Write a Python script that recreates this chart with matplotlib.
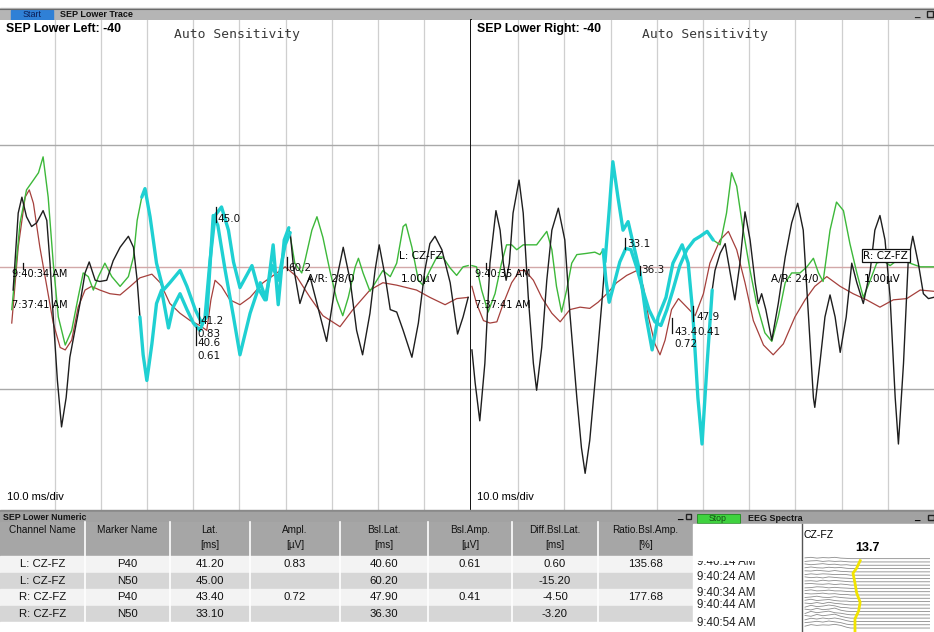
import numpy as np
import matplotlib.pyplot as plt
from matplotlib.patches import Rectangle

plt.rcParams['font.family'] = ['Liberation Sans', 'DejaVu Sans']

# ---------------- SEP Lower Left (latency ms, amplitude uV, 1.00 uV/div) ----------------
left_black_t = [0.9, 2.0, 2.8, 3.8, 4.9, 6.0, 7.4, 8.2, 8.9, 9.6, 10.5, 11.4, 12.4, 13.2, 14.3, 15.4,
                16.5, 17.4, 18.7, 19.7, 21.2, 22.6, 24.1, 25.9, 27.0, 27.8, 28.4, 29.1, 29.9, 31.0, 32.0,
                33.1, 34.6, 35.6, 37.1, 38.6, 40.0, 41.4, 42.5, 43.6, 44.7, 46.1, 47.6, 48.7, 50.1, 52.7,
                54.0, 55.5, 57.1, 58.4, 59.9, 61.0, 61.7, 63.1, 64.2, 65.3, 66.8, 68.9, 70.7, 72.5, 74.0,
                75.4, 76.7, 78.3, 79.4, 80.3, 81.6, 82.7, 84.1, 85.5, 87.4, 88.8, 90.2, 91.3, 92.4, 93.9,
                95.7, 97.3, 98.5, 99.6]
left_black_v = [-0.19, 0.44, 0.57, 0.41, 0.33, 0.36, 0.46, 0.38, 0.03, -0.41, -0.93, -1.31, -1.07, -0.74,
                -0.52, -0.30, -0.05, 0.04, -0.11, -0.12, -0.11, 0.05, 0.16, 0.25, 0.16, -0.11, -0.41,
                -0.72, -0.93, -0.63, -0.30, -0.19, -0.50, -0.33, -0.22, -0.35, -0.46, -0.52, -0.42, 0.05,
                0.42, 0.49, 0.30, 0.04, -0.17, 0.01, -0.17, -0.27, 0.01, -0.11, 0.18, 0.28, 0.00, -0.30,
                -0.17, -0.08, -0.30, -0.61, -0.17, 0.16, -0.11, -0.52, -0.72, -0.38, -0.03, 0.18, -0.08,
                -0.35, -0.37, -0.52, -0.74, -0.46, -0.03, 0.19, 0.25, 0.14, -0.13, -0.55, -0.41, -0.25]
left_green_t = [0.6, 2.4, 3.8, 5.3, 6.4, 7.4, 8.5, 9.6, 10.7, 12.2, 13.6, 15.0, 16.1, 17.2, 18.3, 19.4,
                20.8, 22.3, 24.1, 25.9, 27.0, 27.8, 28.8, 29.5, 30.6, 32.0, 33.5, 34.9, 37.1, 38.6, 40.4,
                41.8, 42.9, 44.3, 45.3, 46.9, 48.7, 50.1, 52.3, 54.5, 55.8, 57.3, 58.4, 59.7, 60.7, 62.0,
                63.5, 64.2, 65.7, 66.8, 68.1, 69.6, 71.1, 72.4, 73.6, 75.1, 75.8, 76.8, 78.3, 79.8, 81.1,
                82.7, 84.1, 85.5, 86.1, 87.4, 88.8, 89.8, 91.3, 92.8, 94.1, 95.7, 97.1, 98.5, 99.6]
left_green_v = [-0.35, 0.36, 0.63, 0.71, 0.77, 0.90, 0.57, 0.03, -0.41, -0.64, -0.52, -0.25, -0.05, -0.08,
                -0.19, -0.08, 0.03, -0.08, -0.16, -0.08, 0.08, 0.38, 0.57, 0.64, 0.41, 0.03, -0.19, -0.13,
                -0.03, -0.16, -0.35, -0.46, -0.41, 0.42, 0.34, -0.03, -0.41, -0.72, -0.38, -0.13, -0.27,
                0.18, -0.31, 0.22, 0.32, 0.03, -0.05, 0.05, 0.30, 0.41, 0.24, -0.03, -0.27, -0.40, -0.25,
                0.00, 0.07, -0.05, -0.20, -0.11, -0.03, -0.08, 0.03, 0.33, 0.35, 0.16, -0.11, -0.15, -0.03,
                0.08, 0.08, -0.01, -0.07, 0.00, 0.01]
left_avg_t = [0.6, 2.0, 3.5, 4.4, 5.3, 6.7, 8.2, 9.6, 11.1, 12.2, 13.6, 15.0, 16.5, 17.9, 19.7, 21.9, 24.1,
              26.3, 28.4, 31.0, 32.8, 34.9, 37.1, 39.3, 41.4, 42.9, 43.8, 44.7, 46.1, 47.9, 50.1, 52.3,
              55.1, 58.1, 59.9, 62.4, 65.3, 68.1, 71.8, 74.6, 78.3, 81.1, 84.1, 88.4, 91.3, 94.6, 97.1, 99.6]
left_avg_v = [-0.46, 0.16, 0.57, 0.63, 0.52, 0.16, -0.16, -0.46, -0.66, -0.68, -0.60, -0.33, -0.19, -0.16,
              -0.19, -0.22, -0.23, -0.16, -0.09, -0.06, -0.13, -0.30, -0.38, -0.44, -0.48, -0.52, -0.27,
              -0.11, -0.16, -0.27, -0.31, -0.25, -0.13, -0.05, 0.00, -0.08, -0.25, -0.40, -0.49, -0.35,
              -0.19, -0.13, -0.15, -0.19, -0.25, -0.31, -0.26, -0.25]
left_window = (28.3, 61.2)

# ---------------- SEP Lower Right ----------------
right_black_t = [0.0, 0.7, 1.7, 2.8, 3.9, 5.2, 6.1, 6.8, 7.4, 8.1, 8.9, 10.2, 11.1, 12.2, 13.3, 14.0, 15.1,
                 16.2, 17.3, 18.7, 20.1, 21.2, 22.7, 23.7, 24.5, 25.5, 27.0, 28.1, 28.8, 29.7, 30.5, 31.6,
                 32.7, 33.8, 34.9, 36.4, 37.7, 39.0, 40.3, 42.0, 43.5, 45.5, 46.8, 47.8, 48.9, 49.8, 50.9,
                 52.0, 52.6, 53.7, 54.8, 55.8, 56.9, 58.0, 59.1, 60.2, 61.3, 62.0, 62.7, 63.6, 64.9, 66.3,
                 67.8, 69.2, 70.5, 71.7, 72.8, 73.9, 74.2, 75.3, 76.4, 77.5, 78.6, 79.7, 81.0, 82.2, 83.3,
                 84.7, 86.2, 87.2, 88.3, 89.4, 90.5, 91.6, 92.3, 93.4, 94.4, 95.4, 96.6, 97.7, 98.8, 99.9]
right_black_v = [-0.68, -0.95, -1.26, -0.79, 0.03, 0.46, 0.30, 0.03, -0.11, 0.03, 0.44, 0.71, 0.44, -0.25,
                 -0.79, -1.01, -0.66, -0.11, 0.30, 0.48, 0.22, -0.38, -1.07, -1.48, -1.69, -1.42, -0.79,
                 -0.30, 0.04, 0.46, 0.86, 0.57, 0.30, 0.37, 0.19, -0.05, -0.41, -0.68, -0.41, -0.25, 0.03,
                 0.18, 0.03, -0.38, -1.07, -1.45, -0.79, -0.19, -0.03, 0.11, 0.19, -0.03, -0.27, 0.03, 0.45,
                 0.22, -0.13, -0.30, -0.22, -0.35, -0.60, -0.30, 0.08, 0.36, 0.52, 0.30, -0.38, -1.07, -1.15,
                 -0.79, -0.41, -0.23, -0.41, -0.70, -0.41, 0.03, -0.13, -0.30, -0.03, 0.30, 0.42, 0.22,
                 -0.25, -1.07, -1.45, -0.79, 0.03, 0.25, 0.03, -0.22, -0.26, -0.25]
right_green_t = [0.0, 1.0, 2.1, 3.5, 5.0, 6.4, 7.5, 8.6, 9.7, 11.1, 12.6, 14.0, 16.2, 17.3, 18.3, 19.4, 20.5,
                 21.6, 22.7, 24.8, 26.6, 27.7, 28.4, 29.0, 29.7, 30.7, 32.0, 33.3, 34.4, 35.7, 37.0, 38.3,
                 39.6, 40.9, 42.2, 43.5, 45.0, 46.5, 48.1, 49.4, 50.9, 52.2, 53.7, 55.1, 56.2, 57.3, 58.7,
                 60.2, 61.6, 63.4, 64.9, 66.3, 67.8, 69.2, 71.0, 72.5, 73.9, 75.0, 76.0, 77.5, 78.9, 80.4,
                 81.8, 83.3, 84.7, 86.2, 87.6, 89.0, 90.5, 91.9, 93.4, 94.8, 97.0, 99.9]
right_green_v = [0.01, 0.00, -0.19, -0.37, -0.22, 0.03, 0.18, 0.18, 0.14, 0.18, 0.18, 0.18, 0.29, 0.14,
                 -0.16, -0.37, -0.19, 0.03, 0.10, 0.11, 0.12, 0.10, 0.14, -0.11, -0.29, -0.15, 0.04, 0.15,
                 0.14, -0.01, -0.19, -0.35, -0.45, -0.48, -0.35, -0.19, 0.01, 0.14, 0.22, 0.25, 0.29, 0.22,
                 0.18, 0.44, 0.77, 0.66, 0.30, -0.03, -0.30, -0.54, -0.61, -0.41, -0.13, -0.05, -0.05, 0.00,
                 0.07, -0.05, -0.12, 0.30, 0.53, 0.46, 0.19, -0.05, -0.25, -0.11, 0.03, 0.05, 0.01, 0.05,
                 0.08, 0.03, 0.00, 0.00]
right_avg_t = [0.0, 1.0, 2.5, 3.9, 5.4, 6.8, 8.6, 10.4, 11.5, 13.3, 15.1, 17.3, 19.1, 21.2, 23.4, 25.5, 27.3,
               29.2, 31.3, 33.5, 35.7, 37.1, 38.2, 39.6, 40.7, 41.8, 43.2, 44.7, 46.5, 48.3, 50.1, 51.5,
               53.7, 55.5, 57.3, 59.1, 60.9, 63.1, 65.2, 67.4, 69.9, 72.1, 74.2, 76.8, 79.7, 82.5, 85.4,
               88.3, 91.2, 94.1, 97.0, 99.9]
right_avg_v = [-0.16, -0.30, -0.44, -0.46, -0.45, -0.30, -0.13, -0.03, -0.03, -0.11, -0.25, -0.38, -0.45,
               -0.35, -0.33, -0.34, -0.29, -0.22, -0.13, -0.07, -0.03, -0.16, -0.41, -0.63, -0.72, -0.60,
               -0.35, -0.26, -0.33, -0.40, -0.22, 0.03, 0.22, 0.29, 0.14, -0.13, -0.44, -0.64, -0.72, -0.63,
               -0.41, -0.27, -0.16, -0.08, -0.16, -0.22, -0.27, -0.33, -0.27, -0.26, -0.19, -0.20]
right_window = (28.3, 52.2)

# marker ticks: latency, lower/upper amplitude of tick
left_marks = [(41.2, -0.46, -0.34), (40.6, -0.64, -0.49), (45.0, 0.37, 0.49), (60.2, -0.03, 0.08)]
left_mark_text = [('41.2', 41.5, -0.44), ('0.83', 40.9, -0.55), ('40.6', 40.9, -0.62),
                  ('0.61', 40.8, -0.73), ('45.0', 45.3, 0.39), ('60.2', 60.6, -0.01)]
right_marks = [(33.1, 0.15, 0.24), (36.3, -0.07, 0.01), (43.4, -0.54, -0.42), (47.9, -0.44, -0.32)]
right_mark_text = [('33.1', 33.5, 0.19), ('36.3', 36.7, -0.03), ('43.4', 43.9, -0.53),
                   ('0.72', 43.9, -0.63), ('47.9', 48.5, -0.41), ('0.41', 48.7, -0.53)]

# ---------------- numeric table ----------------
tbl_headers = [('Channel Name', ''), ('Marker Name', ''), ('Lat.', '[ms]'), ('Ampl.', '[µV]'),
               ('Bsl.Lat.', '[ms]'), ('Bsl.Amp.', '[µV]'), ('Diff.Bsl.Lat.', '[ms]'), ('Ratio.Bsl.Amp.', '[%]')]
tbl_channel = ['L: CZ-FZ', 'L: CZ-FZ', 'R: CZ-FZ', 'R: CZ-FZ']
tbl_marker = ['P40', 'N50', 'P40', 'N50']
tbl_lat = ['41.20', '45.00', '43.40', '33.10']
tbl_ampl = ['0.83', '', '0.72', '']
tbl_bsl_lat = ['40.60', '60.20', '47.90', '36.30']
tbl_bsl_amp = ['0.61', '', '0.41', '']
tbl_diff = ['0.60', '-15.20', '-4.50', '-3.20']
tbl_ratio = ['135.68', '', '177.68', '']

# ---------------- EEG spectra ----------------
eeg_times = ['9:40:14 AM', '9:40:24 AM', '9:40:34 AM', '9:40:44 AM', '9:40:54 AM']
eeg_time_y = [562, 577, 593, 605, 623]
sef_rows = [0.6, 2.9, 4.4, 7.4, 10.3, 13.2, 15.9, 18.2, 21.8]
sef_hz = [14.4, 13.5, 12.6, 13.1, 13.5, 14.4, 14.0, 13.1, 13.1]
csa_f = [0.5, 2.0, 3.5, 5.0, 6.5, 8.0, 9.5, 11.0, 12.0, 32.0]
csa_rows = [
    [0.3, 0.5, 0.2, 0.4, 0.3, 0.5, 0.2, 0.1, 0, 0],
    [0.2, 0.4, 0.5, 0.2, 0.4, 0.2, 0.3, 0.1, 0, 0],
    [0.5, 0.2, 0.4, 0.6, 0.3, 0.4, 0.1, 0.2, 0, 0],
    [0.3, 0.6, 0.3, 0.2, 0.5, 0.3, 0.4, 0.1, 0, 0],
    [0.4, 0.3, 0.6, 0.4, 0.2, 0.5, 0.2, 0.1, 0, 0],
    [0.2, 0.5, 0.3, 0.5, 0.4, 0.2, 0.3, 0.2, 0, 0],
    [0.6, 0.3, 0.5, 0.2, 0.6, 0.4, 0.2, 0.1, 0, 0],
    [0.3, 0.4, 0.2, 0.6, 0.3, 0.5, 0.3, 0.1, 0, 0],
    [0.5, 0.6, 0.4, 0.3, 0.5, 0.2, 0.4, 0.2, 0, 0],
    [0.2, 0.3, 0.6, 0.5, 0.2, 0.4, 0.2, 0.1, 0, 0],
    [0.4, 0.7, 0.3, 0.4, 0.6, 0.3, 0.3, 0.1, 0, 0],
    [0.6, 0.4, 0.5, 0.7, 0.4, 0.5, 0.2, 0.2, 0, 0],
    [0.3, 0.5, 0.8, 0.4, 0.3, 0.6, 0.3, 0.1, 0, 0],
    [0.5, 0.9, 0.4, 0.6, 0.8, 0.4, 0.2, 0.2, 0, 0],
    [0.7, 0.5, 0.9, 0.5, 1.0, 0.6, 0.4, 0.1, 0, 0],
    [0.4, 1.1, 0.6, 0.8, 1.2, 0.9, 0.3, 0.2, 0, 0],
    [0.9, 0.6, 1.2, 0.7, 0.9, 1.3, 0.5, 0.1, 0, 0],
    [0.5, 1.3, 0.8, 1.1, 1.4, 0.8, 0.6, 0.2, 0, 0],
    [1.0, 0.7, 1.4, 0.9, 1.2, 1.5, 0.7, 0.2, 0, 0],
    [0.6, 1.2, 0.9, 1.3, 1.0, 1.3, 0.9, 0.3, 0, 0],
    [0.8, 1.0, 1.3, 1.0, 1.4, 1.1, 0.8, 0.2, 0, 0],
    [0.7, 1.3, 1.0, 1.2, 1.1, 1.4, 1.0, 0.3, 0, 0],
]

W, H = 934, 632
fig = plt.figure(figsize=(W / 100, H / 100), dpi=100)


def px_axes(x0, y0, x1, y1, z=1):
    return fig.add_axes([x0 / W, 1 - y1 / H, (x1 - x0) / W, (y1 - y0) / H], zorder=z)


def bare(ax, face='white'):
    ax.set_facecolor(face)
    ax.set_xticks([])
    ax.set_yticks([])
    for s in ax.spines.values():
        s.set_visible(False)


# background / window chrome in screen pixels
bg = px_axes(0, 0, W, H, z=0)
bg.set_xlim(0, W)
bg.set_ylim(H, 0)
bg.axis('off')
bg.add_patch(Rectangle((0, 8), W, 12, color='#b5b5b5'))
bg.plot([0, W], [8.5, 8.5], color='#6a6a6a', lw=0.8)
bg.add_patch(Rectangle((11, 9.5), 42, 10, color='#2f80d6'))
bg.text(32, 14.8, 'Start', fontsize=6.5, color='#0b1d55', ha='center', va='center')
bg.text(60, 14.5, 'SEP Lower Trace', fontsize=6.5, color='#111111', ha='left', va='center',
        fontweight='bold')
bg.text(917, 14, '_', fontsize=7, color='#222222', ha='center', va='center', fontweight='bold')
bg.add_patch(Rectangle((927, 11), 6, 6, fill=False, ec='#222222', lw=1))


def trace_panel(x0, x1, xlim, black, green, avg, window, marks, mark_text, title, tstamp, ar, chan, boxed):
    ax = px_axes(x0, 20, x1, 510, z=2)
    bare(ax)
    ax.set_xlim(*xlim)
    ax.set_ylim(-1.99, 2.02)
    for g in range(10, 100, 10):
        ax.axvline(g, color='#cfcfcf', lw=0.9, zorder=0)
    ax.axhline(1, color='#a9a9a9', lw=1.0, zorder=0)
    ax.axhline(-1, color='#a9a9a9', lw=1.0, zorder=0)
    ax.axhline(0, color='#d2a8a8', lw=1.0, zorder=0)
    ax.plot(avg[0], avg[1], color='#a5403c', lw=0.9, zorder=2)
    ax.plot(green[0], green[1], color='#3db83a', lw=1.0, zorder=3)
    ax.plot(black[0], black[1], color='#1e1e1e', lw=1.0, zorder=3)
    for t, v in (black, green):
        t = np.asarray(t)
        v = np.asarray(v)
        m = (t >= window[0]) & (t <= window[1])
        ax.plot(t[m], v[m], color='#1fd0d2', lw=2.4, zorder=4, solid_capstyle='round',
                solid_joinstyle='round')
    for lat, lo, hi in marks:
        ax.plot([lat, lat], [lo, hi], color='#111111', lw=0.9, zorder=5)
    for s, x, y in mark_text:
        ax.text(x, y, s, fontsize=7.5, family='DejaVu Sans', color='#111111', ha='left', va='center', zorder=6)
    ax.plot([3.0, 3.0], [-0.02, 0.03], color='#111111', lw=0.9, zorder=5)
    ax.text(0.6, -0.06, tstamp, fontsize=7, family='DejaVu Sans', ha='left', va='center', zorder=6)
    ax.text(0.6, -0.31, '7:37:41 AM', fontsize=7, family='DejaVu Sans', ha='left', va='center', zorder=6)
    ax.text(64.7, -0.10, ar, fontsize=7.5, family='DejaVu Sans', ha='left', va='center', zorder=6)
    bb = dict(boxstyle='square,pad=0.15', fc='white', ec='#111111', lw=0.9) if boxed else None
    ax.text(84.7, 0.09, chan, fontsize=7.5, family='DejaVu Sans', ha='left', va='center', zorder=6, bbox=bb)
    ax.text(84.9, -0.10, '1.00µV', fontsize=7.5, family='DejaVu Sans', ha='left', va='center', zorder=6)
    ax.text(0.012, 0.982, title, transform=ax.transAxes, fontsize=8.8, fontweight='bold',
            ha='left', va='center', zorder=6)
    ax.text(0.37, 0.97, 'Auto Sensitivity', transform=ax.transAxes, fontsize=9.4,
            family='DejaVu Sans Mono', color='#3a3a3a', ha='left', va='center', zorder=6)
    ax.text(0.014, 0.027, '10.0 ms/div', transform=ax.transAxes, fontsize=8, ha='left', va='center', zorder=6)
    return ax


trace_panel(0, 470, (-1.95, 100), (left_black_t, left_black_v), (left_green_t, left_green_v),
            (left_avg_t, left_avg_v), left_window, left_marks, left_mark_text,
            'SEP Lower Left: -40', '9:40:34 AM', 'A/R: 28/0', 'L: CZ-FZ', False)
trace_panel(471, 934, (-0.2, 100), (right_black_t, right_black_v), (right_green_t, right_green_v),
            (right_avg_t, right_avg_v), right_window, right_marks, right_mark_text,
            'SEP Lower Right: -40', '9:40:35 AM', 'A/R: 24/0', 'R: CZ-FZ', True)
bg.plot([470.5, 470.5], [20, 510], color='#000000', lw=1.3, zorder=5)

# ---------------- numeric table ----------------
ov = px_axes(0, 0, W, H, z=3)
ov.set_xlim(0, W)
ov.set_ylim(H, 0)
ov.axis('off')
ov.add_patch(Rectangle((0, 510), W, 2, color='#8a8a8a'))
ov.add_patch(Rectangle((0, 512), 693, 10, color='#a2a2a2'))
ov.text(3, 517, 'SEP Lower Numeric', fontsize=6.3, fontweight='bold', color='#151515', va='center')
ov.text(680, 516, '_', fontsize=7, fontweight='bold', ha='center', va='center')
ov.add_patch(Rectangle((686, 514), 5, 5, fill=False, ec='#222222', lw=1))
col_edges = [0, 85, 170, 250, 340, 428, 512, 598, 693]
ov.add_patch(Rectangle((0, 522), 693, 34, color='#a6a6a6'))
row_y = [556, 572.5, 589, 605.5]
row_h = 16.5
for i, y in enumerate(row_y):
    ov.add_patch(Rectangle((0, y), 693, row_h, color='#f3f3f3' if i % 2 == 0 else '#d6d6d6'))
ov.add_patch(Rectangle((0, 622), 693, 10, color='#ffffff'))
for x in col_edges[1:-1]:
    ov.plot([x, x], [522, 622], color='#ffffff', lw=1.2)
for i, (h1, h2) in enumerate(tbl_headers):
    cx = (col_edges[i] + col_edges[i + 1]) / 2
    ov.text(cx, 530, h1, fontsize=7.2, ha='center', va='center', color='#111111')
    if h2:
        ov.text(cx, 545, h2, fontsize=7.2, ha='center', va='center', color='#111111')
columns = [tbl_channel, tbl_marker, tbl_lat, tbl_ampl, tbl_bsl_lat, tbl_bsl_amp, tbl_diff, tbl_ratio]
for j, col in enumerate(columns):
    cx = (col_edges[j] + col_edges[j + 1]) / 2
    for i, val in enumerate(col):
        ov.text(cx, row_y[i] + row_h / 2, val, fontsize=8.2, ha='center', va='center', color='#111111')

# ---------------- EEG spectra panel ----------------
ov.add_patch(Rectangle((693, 512), W - 693, 12, color='#a2a2a2'))
ov.add_patch(Rectangle((697, 514), 43, 9, color='#3fd23f', ec='#1f8a1f', lw=0.6))
ov.text(718, 518.5, 'Stop', fontsize=6.3, color='#155015', ha='center', va='center')
ov.text(748, 518.5, 'EEG Spectra', fontsize=6.5, fontweight='bold', color='#151515', va='center')
ov.text(917, 517, '_', fontsize=7, fontweight='bold', ha='center', va='center')
ov.add_patch(Rectangle((928, 515), 6, 5, fill=False, ec='#222222', lw=1))
ov.add_patch(Rectangle((693, 524), W - 693, 108, color='#ffffff'))
ov.plot([801.5, 801.5], [524, 632], color='#555555', lw=1.0)
ov.text(803, 535, 'CZ-FZ', fontsize=7.5, ha='left', va='center')
ov.text(867, 548, '13.7', fontsize=9, fontweight='bold', ha='center', va='center')

# time list is clipped at the top, as in the scrolling list
ta = px_axes(693, 561, 801, 632, z=4)
ta.set_xlim(0, 108)
ta.set_ylim(71, 0)
ta.axis('off')
for s, y in zip(eeg_times, eeg_time_y):
    ta.text(4, y - 561, s, fontsize=8.3, ha='left', va='center', color='#222222', clip_on=True)

csa = px_axes(803, 556, 930, 632, z=4)
bare(csa, face='none')
csa.set_xlim(0, 32)
csa.set_ylim(22.2, -0.8)
for i, row in enumerate(csa_rows):
    csa.plot(csa_f, i - np.asarray(row) * 0.8, color='#8c8c8c', lw=0.6)
csa.plot(sef_hz, sef_rows, color='#f2e400', lw=2.0, zorder=5)

fig.savefig('out.png', dpi=100)
